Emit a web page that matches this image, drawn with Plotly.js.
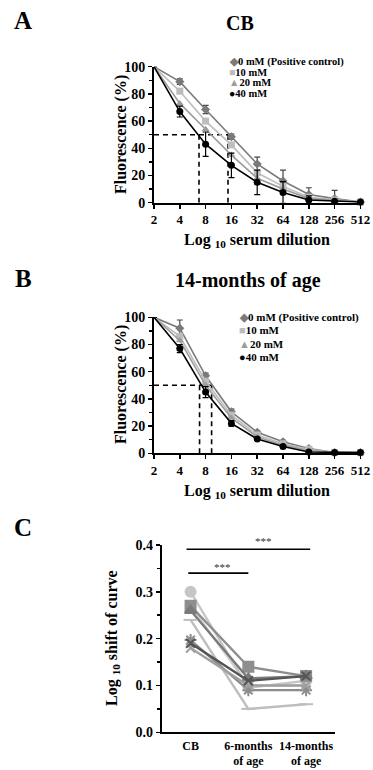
<!DOCTYPE html>
<html><head><meta charset="utf-8">
<script src="https://cdn.plot.ly/plotly-3.0.1.min.js"></script>
<style>html,body{margin:0;padding:0;background:#fff}#chart{width:373px;height:770px}</style>
</head><body><div id="chart"></div>
<script>
// ---------- DATA ----------
const dilutions = [2, 4, 8, 16, 32, 64, 128, 256, 512];
const concLabels = ['0 mM (Positive control)', '10 mM', '20 mM', '40 mM'];

// Panel A: CB
const cb0  = [100, 89, 68.5, 48.5, 28.5, 16, 6, 3, 0.5];
const cb10 = [100, 82, 60, 42.5, 22, 12, 4, 2, 0.5];
const cb20 = [100, 73, 54, 35, 18, 10, 3, 1.5, 0.5];
const cb40 = [100, 67, 43, 27.5, 15, 7.5, 2, 1, 0.5];
const cb0Err  = [0, 2, 3, 2, 5, 8, 5, 6, 0];
const cb40Err = [0, 4, 9, 9, 9, 8, 3, 0, 0];
const cbHalf = [6.7, 14.6];

// Panel B: 14-months of age
const m14_0  = [100, 92, 57, 30.5, 15.5, 8.5, 3.5, 0.5, 0.5];
const m14_10 = [100, 86, 53, 28, 13.5, 7, 3, 0.5, 0.5];
const m14_20 = [100, 83, 50, 26, 12, 6, 2, 0.5, 0.5];
const m14_40 = [100, 77, 45, 22, 10.5, 5, 1, 0.5, 0.5];
const m14_0Err  = [0, 6, 2, 2, 1, 1, 1, 0, 0];
const m14_40Err = [0, 3, 4, 2, 1, 1, 0.5, 0, 0];
const m14Half = [6.8, 9.4];

// Panel C: log10 shift of curve
const groups = ['CB', '6-months<br>of age', '14-months<br>of age'];
const shiftA = [0.30, 0.095, 0.11];
const shiftB = [0.27, 0.14, 0.12];
const shiftC = [0.26, 0.115, 0.12];
const shiftD = [0.24, 0.05, 0.06];
const shiftE = [0.197, 0.09, 0.09];
const shiftF = [0.19, 0.11, 0.12];
const shiftG = [0.18, 0.10, 0.10];
const shiftH = [0.27, 0.10, 0.10];

// ---------- STYLE ----------
const FONT = "'Liberation Serif', serif";
const W = 373, H = 770;
const px = v => v / W;
const py = v => 1 - v / H;
const concStyle = [
  {color: '#7a7a7a', symbol: 'diamond', size: 7},
  {color: '#bdbdbd', symbol: 'square', size: 7},
  {color: '#9c9c9c', symbol: 'triangle-up', size: 7},
  {color: '#000000', symbol: 'circle', size: 7}
];

function doseTraces(series, errs, xa, ya) {
  return series.map((s, i) => {
    const t = {
      x: dilutions, y: s, xaxis: xa, yaxis: ya, type: 'scatter', mode: 'lines+markers',
      cliponaxis: false, showlegend: false,
      line: {color: concStyle[i].color, width: 1.6},
      marker: {color: concStyle[i].color, symbol: concStyle[i].symbol, size: concStyle[i].size}
    };
    if (errs[i]) t.error_y = {type: 'data', array: errs[i], visible: true, color: i === 3 ? '#000' : '#444', thickness: 1.2, width: 3};
    return t;
  });
}
function halfTraces(half, xa, ya) {
  const base = {xaxis: xa, yaxis: ya, type: 'scatter', mode: 'lines', showlegend: false, hoverinfo: 'skip', cliponaxis: false,
    line: {color: '#000', width: 1.6, dash: '5px,4px'}};
  return [
    Object.assign({}, base, {x: [dilutions[0], half[1]], y: [50, 50]}),
    Object.assign({}, base, {x: [half[0], half[0]], y: [0, 50]}),
    Object.assign({}, base, {x: [half[1], half[1]], y: [0, 50]})
  ];
}

const traces = [];
traces.push(...halfTraces(cbHalf, 'x', 'y'));
traces.push(...doseTraces([cb0, cb10, cb20, cb40], [cb0Err, null, null, cb40Err], 'x', 'y'));
traces.push(...halfTraces(m14Half, 'x2', 'y2'));
traces.push(...doseTraces([m14_0, m14_10, m14_20, m14_40], [m14_0Err, null, null, m14_40Err], 'x2', 'y2'));

const shiftStyles = [
  {y: shiftH, color: '#d2d2d2', symbol: 'square', size: 8},
  {y: shiftA, color: '#c6c6c6', symbol: 'circle', size: 10},
  {y: shiftB, color: '#8e8e8e', symbol: 'square', size: 10},
  {y: shiftC, color: '#7a7a7a', symbol: 'triangle-up', size: 10},
  {y: shiftD, color: '#bebebe', symbol: 'line-ew-open', size: 10},
  {y: shiftE, color: '#8c8c8c', symbol: 'asterisk-open', size: 10},
  {y: shiftG, color: '#a0a0a0', symbol: 'x-thin-open', size: 9},
  {y: shiftF, color: '#555555', symbol: 'x-thin-open', size: 9}
];
shiftStyles.forEach(s => {
  traces.push({x: groups, y: s.y, xaxis: 'x3', yaxis: 'y3', type: 'scatter', mode: 'lines+markers',
    cliponaxis: false, showlegend: false,
    line: {color: s.color, width: 2.4},
    marker: {color: s.color, symbol: s.symbol, size: s.size, line: {color: s.color, width: 2}}});
});

const axFont = {family: FONT, size: 14, color: '#000', weight: 'bold'};
const xFont = {family: FONT, size: 13, color: '#000', weight: 'bold'};
function doseX(domain, anchor) {
  return {domain: domain, anchor: anchor, type: 'log',
    range: [Math.log10(2), Math.log10(512) + 0.03],
    tickvals: dilutions, ticktext: dilutions.map(String),
    showline: true, linecolor: '#000', linewidth: 2, showgrid: false, zeroline: false,
    ticks: 'outside', ticklen: 4, tickwidth: 1.5, tickcolor: '#000', tickfont: xFont};
}
function doseY(domain, anchor) {
  return {domain: domain, anchor: anchor, range: [0, 100], tickvals: [0, 20, 40, 60, 80, 100],
    showline: true, linecolor: '#000', linewidth: 2, showgrid: false, zeroline: false,
    ticks: 'outside', ticklen: 4, tickwidth: 1.5, tickcolor: '#000', tickfont: axFont,
    minor: {dtick: 10, ticks: 'outside', ticklen: 3, tickwidth: 1.5, tickcolor: '#000', showgrid: false}};
}

function ann(text, x, y, size, extra) {
  return Object.assign({text: text, x: px(x), y: py(y), xref: 'paper', yref: 'paper', showarrow: false,
    font: {family: FONT, size: size, color: '#000', weight: 'bold'}, xanchor: 'center', yanchor: 'middle'}, extra || {});
}
function legendAnns(x, y0, step, size) {
  const sym = ['◆', '■', '▲', '●'];
  return concLabels.map((lab, i) => ann('<span style="color:' + concStyle[i].color + '">' + sym[i] + '</span>' + lab,
    x, y0 + i * step, size, {xanchor: 'left'}));
}

const annotations = [
  ann('A', 23, 21, 25),
  ann('CB', 240, 23, 20),
  ann('Fluorescence (%)', 121, 135, 16, {textangle: -90}),
  ann('Log <sub>10</sub> serum dilution', 257, 241, 16),
  ann('B', 23, 278, 25),
  ann('14-months of age', 248, 280, 20),
  ann('Fluorescence (%)', 121, 385, 16, {textangle: -90}),
  ann('Log <sub>10</sub> serum dilution', 257, 491, 16),
  ann('C', 23, 527, 25),
  ann('Log <sub>10</sub> shift of curve', 112, 638, 16, {textangle: -90}),
  ann('***', 263, 541, 11, {font: {family: FONT, size: 11, color: '#333'}}),
  ann('***', 223, 567, 11, {font: {family: FONT, size: 11, color: '#333'}})
].concat(legendAnns(227, 62, 10.5, 10.5)).concat(legendAnns(237, 317, 13.3, 11));

const layout = {
  width: W, height: H, margin: {l: 0, r: 0, t: 0, b: 0},
  paper_bgcolor: '#fff', plot_bgcolor: 'rgba(0,0,0,0)', showlegend: false,
  font: {family: FONT, color: '#000'},
  xaxis: doseX([px(154), px(363)], 'y'),
  yaxis: doseY([py(202.7), py(66.7)], 'x'),
  xaxis2: doseX([px(154), px(363)], 'y2'),
  yaxis2: doseY([py(453.3), py(317.3)], 'x2'),
  xaxis3: {domain: [px(161.7), px(335)], anchor: 'y3', type: 'category', range: [-0.5, 2.5],
    showline: true, linecolor: '#000', linewidth: 2, showgrid: false, zeroline: false, ticks: '',
    tickfont: {family: FONT, size: 12, color: '#000', weight: 'bold'}, ticklabelstandoff: 1},
  yaxis3: {domain: [py(732.3), py(545)], anchor: 'x3', range: [0, 0.4], tickvals: [0, 0.1, 0.2, 0.3, 0.4],
    tickformat: '.1f', showline: true, linecolor: '#000', linewidth: 2, showgrid: false, zeroline: false,
    ticks: 'outside', ticklen: 4, tickwidth: 1.5, tickcolor: '#000', tickfont: axFont,
    minor: {dtick: 0.05, ticks: 'outside', ticklen: 3, tickwidth: 1.5, tickcolor: '#000', showgrid: false}},
  shapes: [
    {type: 'line', xref: 'x3', yref: 'y3', x0: -0.07, x1: 2.07, y0: 0.391, y1: 0.391, line: {color: '#000', width: 1.6}},
    {type: 'line', xref: 'x3', yref: 'y3', x0: -0.04, x1: 1.0, y0: 0.34, y1: 0.34, line: {color: '#000', width: 1.6}}
  ],
  annotations: annotations
};

Plotly.newPlot('chart', traces, layout, {staticPlot: true, displayModeBar: false});
</script></body></html>
